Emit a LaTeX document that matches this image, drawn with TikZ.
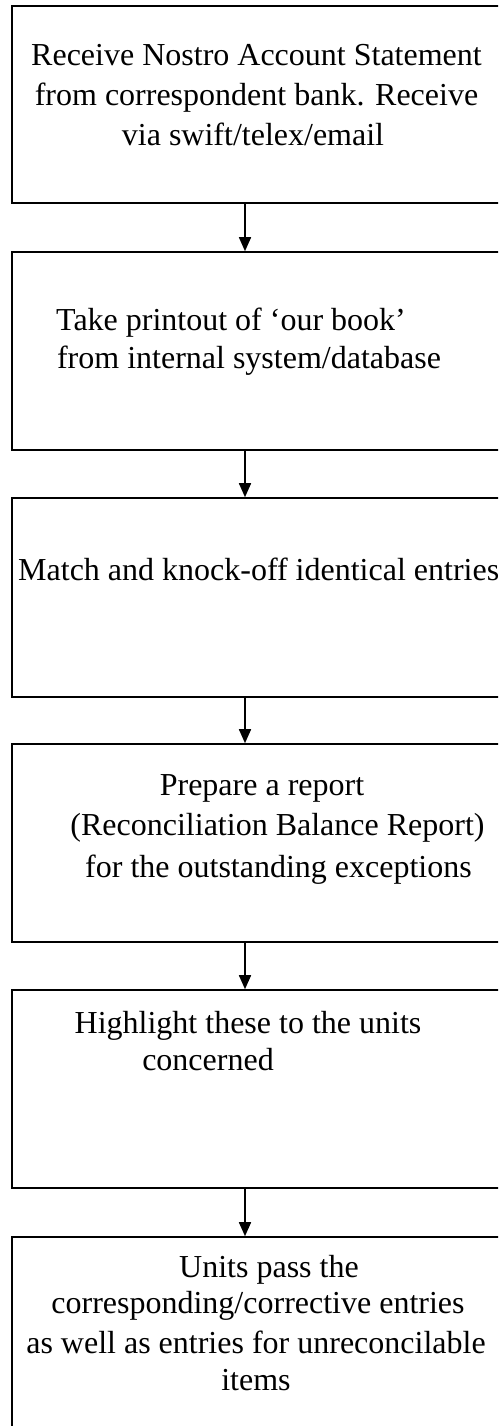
\documentclass[tikz,border=0pt]{standalone}
\usepackage{fontspec}
\setmainfont{Liberation Serif}
\usetikzlibrary{arrows.meta}
\begin{document}
\begin{tikzpicture}[x=1pt,y=-1pt,
  box/.style={draw=black, line width=1.6pt, minimum width=496pt, inner sep=0pt},
  txt/.style={font=\fontsize{32}{38}\selectfont, inner sep=0pt, anchor=base},
  arr/.style={draw=black, line width=1.6pt, -{Triangle[length=14pt,width=12pt]}}]
\useasboundingbox (0,0) rectangle (498,1426);
\clip (0,0) rectangle (498,1426);
\fill[white] (0,0) rectangle (498,1426);
\coordinate (ax) at (245,0);
% boxes
\node[box, minimum height=197pt] (b1) at (260,104.5) {};
\node[box, minimum height=198pt] (b2) at (260,351) {};
\node[box, minimum height=199pt] (b3) at (260,597.5) {};
\node[box, minimum height=198pt] (b4) at (260,843) {};
\node[box, minimum height=198pt] (b5) at (260,1089) {};
\node[box, minimum height=198pt] (b6) at (260,1336) {};
% texts
\node[txt] (t1a) at (256.5,66) {Receive Nostro Account Statement};
\node[txt] (t1b) at (256.5,106) {from correspondent bank. Receive};
\node[txt] (t1c) at (253,146) {via swift/telex/email};
\node[txt] (t2a) at (231,330) {Take printout of ‘our book’};
\node[txt] (t2b) at (249,368) {from internal system/database};
\node[txt, anchor=base west] (t3a) at (18,580) {Match and knock-off identical entries};
\node[txt] (t4a) at (262,795) {Prepare a report};
\node[txt] (t4b) at (277.5,835) {(Reconciliation Balance Report)};
\node[txt] (t4c) at (278.5,877) {for the outstanding exceptions};
\node[txt] (t5a) at (248,1033) {Highlight these to the units};
\node[txt] (t5b) at (208,1070) {concerned};
\node[txt] (t6a) at (269,1277) {Units pass the};
\node[txt] (t6b) at (258,1313) {corresponding/corrective entries};
\node[txt] (t6c) at (256,1353) {as well as entries for unreconcilable};
\node[txt] (t6d) at (256,1390) {items};
% arrows
\draw[arr] (b1.south -| ax) -- (b2.north -| ax);
\draw[arr] (b2.south -| ax) -- (b3.north -| ax);
\draw[arr] (b3.south -| ax) -- (b4.north -| ax);
\draw[arr] (b4.south -| ax) -- (b5.north -| ax);
\draw[arr] (b5.south -| ax) -- (b6.north -| ax);
\end{tikzpicture}
\end{document}
